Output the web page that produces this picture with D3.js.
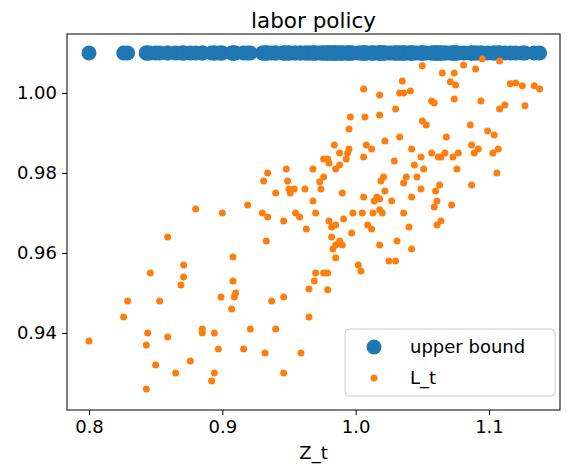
<!DOCTYPE html>
<html>
<head>
<meta charset="utf-8">
<script src="https://cdn.jsdelivr.net/npm/d3@7"></script>
<style>
body { margin: 0; background: #fff; }
text { font-family: "DejaVu Sans", sans-serif; }
</style>
</head>
<body>
<svg id="chart" width="572" height="473"></svg>
<script>
var zt = [0.800, 0.826, 0.829, 0.843, 0.843, 0.844, 0.846, 0.850, 0.853, 0.859, 0.859, 0.865, 0.869, 0.871, 0.871,
	0.876, 0.880, 0.885, 0.885, 0.892, 0.894, 0.894, 0.897, 0.899, 0.900, 0.907, 0.908, 0.908, 0.909, 0.910,
	0.916, 0.919, 0.921, 0.930, 0.931, 0.932, 0.933, 0.934, 0.934, 0.937, 0.940, 0.940, 0.946, 0.946, 0.946,
	0.948, 0.949, 0.950, 0.951, 0.954, 0.955, 0.958, 0.959, 0.962, 0.963, 0.965, 0.965, 0.968, 0.968, 0.969,
	0.970, 0.970,
	1.050, 1.081, 1.095, 1.108, 1.090, 1.065, 1.074, 1.035, 1.071, 1.075, 1.006, 1.033, 1.036, 1.041, 1.018,
	1.116, 1.120, 1.125, 1.134, 1.138, 1.074, 1.094, 1.057, 1.059, 1.030, 1.112, 1.108, 1.127, 0.996, 1.007,
	1.018, 1.050, 1.053, 1.086, 0.995, 1.099, 1.104, 1.068, 1.033, 1.022, 0.984, 1.008, 1.012, 1.087, 1.042,
	1.092, 0.995, 0.988, 0.994, 0.993, 1.006, 1.049, 1.057, 1.062, 1.064, 1.067, 1.073, 1.077, 1.089, 1.103,
	1.107, 0.976, 0.979, 0.980, 0.988, 0.985, 1.029, 1.044, 1.051, 1.076, 1.106, 0.976, 0.973, 0.974, 0.990,
	1.021, 1.019, 1.038, 1.036, 1.046, 1.063, 1.060, 1.087, 1.006, 1.016, 1.022, 1.042, 1.049, 1.014, 1.018,
	1.027, 1.061, 1.059, 1.072, 0.998, 1.005, 1.013, 1.018, 1.020, 1.036, 0.980, 0.991, 0.982, 0.985, 1.009,
	1.012, 0.997, 1.040, 1.061, 1.064, 0.982, 0.988, 0.985, 0.990, 0.983, 1.018, 1.031, 1.042, 0.985, 1.002,
	1.004, 1.025, 1.030, 0.976, 0.979, 0.979];
var lt = [0.938, 0.944, 0.948, 0.926, 0.937, 0.940, 0.955, 0.932, 0.948, 0.939, 0.964, 0.930, 0.952, 0.954, 0.957,
	0.933, 0.971, 0.941, 0.940, 0.928, 0.930, 0.940, 0.936, 0.949, 0.970, 0.946, 0.959, 0.953, 0.949, 0.950,
	0.936, 0.972, 0.941, 0.970, 0.978, 0.935, 0.963, 0.969, 0.980, 0.948, 0.975, 0.941, 0.968, 0.949, 0.930,
	0.981, 0.978, 0.976, 0.975, 0.976, 0.970, 0.969, 0.935, 0.976, 0.966, 0.944, 0.951, 0.973, 0.981, 0.953,
	0.955, 0.970,
	1.0068, 1.007, 1.0085, 1.008, 1.006, 1.005, 1.005, 1.003, 1.0028, 1.002, 1.001, 1.000, 1.000, 1.0005, 0.9995,
	1.0023, 1.0025, 1.0018, 1.0018, 1.001, 0.9985, 0.998, 0.998, 0.9975, 0.996, 0.997, 0.996, 0.9968, 0.994, 0.994,
	0.9945, 0.993, 0.992, 0.992, 0.991, 0.9905, 0.9895, 0.989, 0.989, 0.988, 0.987, 0.987, 0.986, 0.987, 0.986,
	0.986, 0.986, 0.985, 0.985, 0.9835, 0.984, 0.984, 0.985, 0.984, 0.984, 0.985, 0.984, 0.985, 0.985, 0.985,
	0.986, 0.9835, 0.9835, 0.9825, 0.982, 0.981, 0.983, 0.982, 0.981, 0.981, 0.980, 0.979, 0.9778, 0.976, 0.975,
	0.979, 0.978, 0.979, 0.9775, 0.979, 0.977, 0.9755, 0.977, 0.974, 0.974, 0.9755, 0.974, 0.976, 0.973, 0.9735,
	0.973, 0.973, 0.9715, 0.972, 0.970, 0.970, 0.970, 0.9708, 0.970, 0.970, 0.968, 0.9685, 0.9665, 0.967, 0.967,
	0.966, 0.965, 0.9665, 0.967, 0.968, 0.964, 0.963, 0.962, 0.962, 0.961, 0.962, 0.963, 0.961, 0.9588, 0.957,
	0.9555, 0.958, 0.958, 0.955, 0.955, 0.9508];
var upperBound = 1.01;
var xTicks = [0.8, 0.9, 1.0, 1.1];
var yTicks = [0.94, 0.96, 0.98, 1.00];

var plotLeft = 67, plotRight = 560, plotTop = 34, plotBottom = 410;
var svg = d3.select("#chart");
var x = d3.scaleLinear().domain([0.7835, 1.1533]).range([plotLeft, plotRight]);
var y = d3.scaleLinear().domain([0.92075, 1.01475]).range([plotBottom, plotTop]);

var pts = zt.map(function(d, i) { return { z: d, l: lt[i] }; });

svg.append("g").selectAll("circle.ub")
	.data(pts)
	.enter()
	.append("circle")
	.attr("class", "ub")
	.attr("cx", function(d) { return x(d.z); })
	.attr("cy", y(upperBound))
	.attr("r", 7.5)
	.style("fill", "#1f77b4");

svg.append("g").selectAll("circle.lt")
	.data(pts)
	.enter()
	.append("circle")
	.attr("class", "lt")
	.attr("cx", function(d) { return x(d.z); })
	.attr("cy", function(d) { return y(d.l); })
	.attr("r", 3.5)
	.style("fill", "#ff7f0e");

var xAxis = svg.append("g")
	.attr("transform", "translate(0," + plotBottom + ")")
	.call(d3.axisBottom(x).tickValues(xTicks).tickFormat(d3.format(".1f")).tickSizeOuter(0).tickSize(5).tickPadding(5));
var yAxis = svg.append("g")
	.attr("transform", "translate(" + plotLeft + ",0)")
	.call(d3.axisLeft(y).tickValues(yTicks).tickFormat(d3.format(".2f")).tickSizeOuter(0).tickSize(5).tickPadding(5));
[xAxis, yAxis].forEach(function(a) {
	a.select(".domain").remove();
	a.selectAll("text").style("font-size", "18px").style("fill", "#000").style("font-family", "DejaVu Sans");
	a.selectAll("line").style("stroke", "#000").style("stroke-width", 1);
});

svg.append("rect")
	.attr("x", plotLeft).attr("y", plotTop)
	.attr("width", plotRight - plotLeft).attr("height", plotBottom - plotTop)
	.style("fill", "none").style("stroke", "#000").style("stroke-width", 1);

svg.append("text").attr("x", (plotLeft + plotRight) / 2).attr("y", 28)
	.attr("text-anchor", "middle").style("font-size", "21.5px").text("labor policy");
svg.append("text").attr("x", (plotLeft + plotRight) / 2).attr("y", 459)
	.attr("text-anchor", "middle").style("font-size", "18px").text("Z_t");

// legend
var lg = svg.append("g").attr("transform", "translate(345,329)");
lg.append("rect").attr("width", 210).attr("height", 67).attr("rx", 4)
	.style("fill", "#fff").style("fill-opacity", 0.8).style("stroke", "#ccc");
lg.append("circle").attr("cx", 29).attr("cy", 18).attr("r", 7.5).style("fill", "#1f77b4");
lg.append("text").attr("x", 65).attr("y", 24).style("font-size", "18px").text("upper bound");
lg.append("circle").attr("cx", 29).attr("cy", 49).attr("r", 3.5).style("fill", "#ff7f0e");
lg.append("text").attr("x", 65).attr("y", 55).style("font-size", "18px").text("L_t");
</script>
</body>
</html>
